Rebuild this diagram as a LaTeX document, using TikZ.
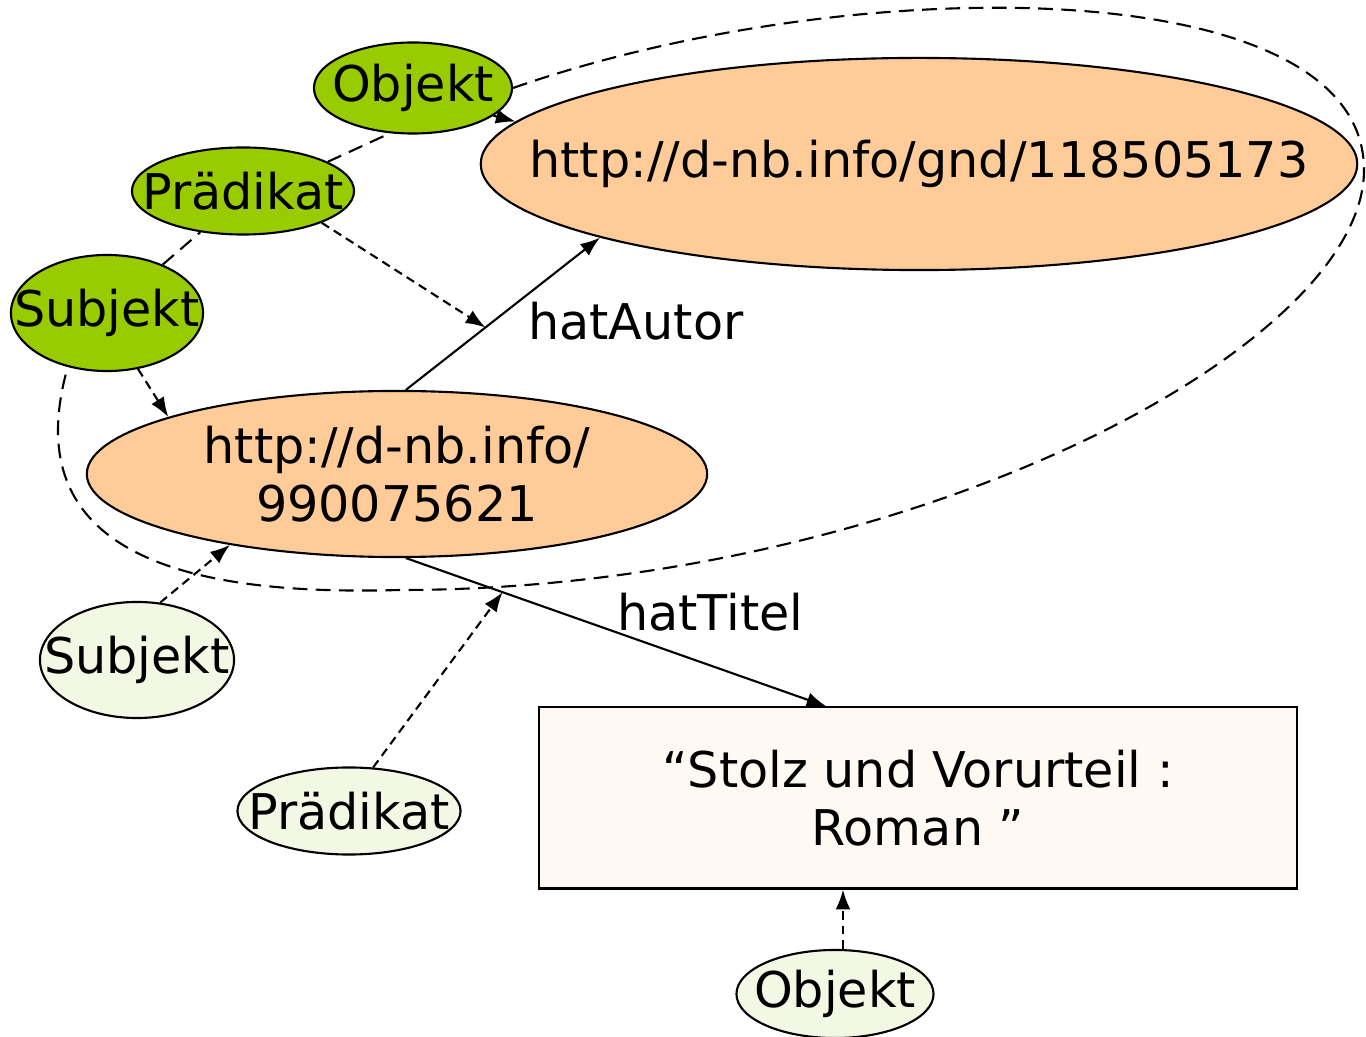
\documentclass[tikz,border=0pt]{standalone}
\usepackage{fontspec}
\setmainfont{DejaVu Sans}
\usetikzlibrary{arrows.meta,shapes.geometric,positioning}

\definecolor{gruen}{HTML}{99CC00}
\definecolor{hellgruen}{HTML}{F3F8E4}
\definecolor{uriorange}{HTML}{FFCC99}
\definecolor{literal}{HTML}{FFF9F4}

\newcommand{\schmal}[1]{\makebox[0pt]{#1}}

\begin{document}
\begin{tikzpicture}[x=0.01cm, y=-0.01cm, >={Latex[length=5.6pt, width=4.2pt]},
    every node/.style={font=\fontsize{14}{16.5}\selectfont},
    knoten/.style={ellipse, draw, line width=0.6pt, inner sep=0pt},
    uri/.style={knoten, fill=uriorange},
    rolle/.style={knoten, fill=gruen},
    rolle2/.style={knoten, fill=hellgruen},
    kante/.style={->, line width=0.6pt},
    verweis/.style={->, line width=0.6pt, dash pattern=on 2.5pt off 1.6pt},
    schleife/.style={line width=0.6pt, dash pattern=on 4.2pt off 2.4pt}]

        \useasboundingbox (0,0) rectangle (1366,1037);

        \node[uri, minimum width=8.76cm, minimum height=2.12cm] (gnd) at (919,164) {\schmal{http://d-nb.info/gnd/118505173}};
        \node[uri, minimum width=6.2cm, minimum height=1.66cm, align=center] (werk) at (397,474) {http://d-nb.info/\\990075621};
        \node[draw, fill=literal, line width=0.6pt, minimum width=7.57cm, minimum height=1.81cm, align=center] (lit) at (918,798) {“Stolz und Vorurteil :\\Roman ”};

        \node[rolle, minimum width=1.98cm, minimum height=0.91cm] (obj1) at (413,88) {\schmal{Objekt}};
        \node[rolle, minimum width=2.22cm, minimum height=0.87cm] (pred1) at (243,191) {\schmal{Prädikat}};
        \node[rolle, minimum width=1.92cm, minimum height=1.16cm] (sub1) at (107,313) {\schmal{Subjekt}};

        \node[rolle2, minimum width=1.94cm, minimum height=1.16cm] (sub2) at (137,660) {\schmal{Subjekt}};
        \node[rolle2, minimum width=2.23cm, minimum height=0.87cm] (pred2) at (349,811) {\schmal{Prädikat}};
        \node[rolle2, minimum width=1.97cm, minimum height=0.88cm] (obj2) at (835,994) {\schmal{Objekt}};

        \draw[kante] (werk.84) -- (gnd.193) node[pos=.45, anchor=west, xshift=0.34cm, inner sep=0pt] (autor) {hatAutor} coordinate[pos=.41] (mA);
        \draw[kante] (werk.-84) -- (lit.135) node[pos=.5, anchor=south west, inner sep=0pt] (titel) {hatTitel} coordinate[pos=.23] (mT);

        \draw[schleife] (sub1.41) -- (pred1.224);
        \draw[schleife] (pred1.19) -- (obj1.243);
        \draw[schleife] (obj1.east) .. controls (850,-30) and (1364,-30) .. (1364,170)
            .. controls (1364,350) and (900,590) .. (400,590)
            .. controls (220,595) and (10,570) .. (sub1.234);

        \draw[verweis] (pred1.-22) -- (mA);
        \draw[verweis] (sub1.-61) -- (werk.166);
        \draw[verweis] (obj1.-19) -- (gnd.174);
        \draw[verweis] (sub2.68) -- (werk.203);
        \draw[verweis] (pred2.61) -- (mT);
        \draw[verweis] ([xshift=0.08cm]obj2.north) -- ([xshift=0.08cm]obj2.north |- lit.south);
    \end{tikzpicture}
\end{document}
